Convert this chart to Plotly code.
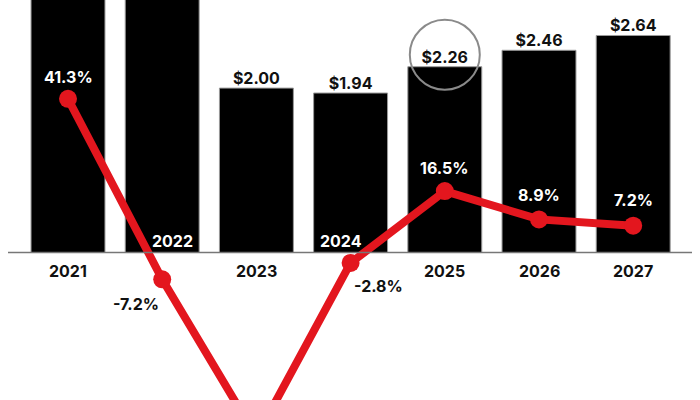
import plotly.graph_objects as go

# Data
years = ["2021", "2022", "2023", "2024", "2025", "2026", "2027"]
price = [4.28, 3.97, 2.00, 1.94, 2.26, 2.46, 2.64]       # $ per unit
growth = [41.3, -7.2, -49.6, -2.8, 16.5, 8.9, 7.2]       # % change y/y
highlight_year = "2025"

# label styling (offsets in px, colours)
pct_offsets = [(0, -22), (-26, 25), (0, 24), (28, 23), (0, -23), (0, -24), (0, -26)]
pct_colors = ["white", "#111", "#111", "#111", "white", "white", "white"]
year_inside = {"2022": 10, "2024": -10}   # year labels drawn inside the bar, with x shift

RED = "#e3161e"
FONT = "Inter"

# pixel scale of the picture: baseline at 252.5px, 82.2 px per $, 3.72 px per %
H = 400
base_px = 252.5
px_per_dollar = 82.2
px_per_pct = 3.72
x_first_px = 68
x_step_px = 94.2
y_top = base_px / px_per_dollar

fig = go.Figure()

fig.add_trace(go.Bar(
    x=years, y=price,
    marker=dict(color="black", line=dict(color="#9a9a9a", width=1)),
    hoverinfo="skip",
))

# $ labels only for bars whose top is inside the picture
fig.add_trace(go.Scatter(
    x=years, y=price,
    mode="text",
    text=[f"${v:.2f}" if v < y_top else "" for v in price],
    textposition="top center",
    textfont=dict(family=FONT, size=16, color="#111", weight="bold"),
    hoverinfo="skip",
))

fig.add_trace(go.Scatter(
    x=years, y=growth,
    yaxis="y2",
    mode="lines+markers",
    line=dict(color=RED, width=8),
    marker=dict(color=RED, size=18),
    hoverinfo="skip",
))

# growth labels (category axis: annotations take the category index)
for i, (g, (dx, dy), col) in enumerate(zip(growth, pct_offsets, pct_colors)):
    fig.add_annotation(
        x=i, y=g, xref="x", yref="y2",
        text=f"<b>{g:.1f}%</b>",
        showarrow=False,
        xshift=dx, yshift=-dy,
        font=dict(family=FONT, size=16, color=col),
    )

# year labels
for i, yr in enumerate(years):
    if yr in year_inside:
        fig.add_annotation(
            x=i, y=0, xref="x", yref="y", text=f"<b>{yr}</b>", showarrow=False,
            yanchor="bottom", yshift=0, xshift=year_inside[yr],
            font=dict(family=FONT, size=16, color="white"),
        )
    else:
        fig.add_annotation(
            x=i, y=0, xref="x", yref="y", text=f"<b>{yr}</b>", showarrow=False,
            yanchor="top", yshift=-6,
            font=dict(family=FONT, size=16, color="#111"),
        )

# baseline
fig.add_shape(
    type="line", xref="paper", yref="y",
    x0=8 / 700, x1=692 / 700, y0=0, y1=0,
    line=dict(color="#777", width=1.5),
)

# circle around the highlighted value
hi = years.index(highlight_year)
cy = price[hi] + 12 / px_per_dollar
r = 35
fig.add_shape(
    type="circle", xref="x", yref="y",
    x0=hi - r / x_step_px, x1=hi + r / x_step_px,
    y0=cy - r / px_per_dollar, y1=cy + r / px_per_dollar,
    line=dict(color="#8a8a8a", width=2),
)

fig.update_layout(
    width=700, height=400,
    margin=dict(l=0, r=0, t=0, b=0),
    paper_bgcolor="white", plot_bgcolor="white",
    showlegend=False,
    bargap=0.215,
    xaxis=dict(
        type="category",
        range=[-x_first_px / x_step_px, (700 - x_first_px) / x_step_px],
        showticklabels=False, showgrid=False, zeroline=False, showline=False,
    ),
    yaxis=dict(
        range=[-(H - base_px) / px_per_dollar, y_top],
        visible=False,
    ),
    yaxis2=dict(
        overlaying="y",
        range=[-(H - base_px) / px_per_pct, base_px / px_per_pct],
        visible=False,
    ),
)

# page body has a default 8px margin, drop it so the figure fills the window
fig.write_html("out.html", config={"displayModeBar": False},
               post_script="document.body.style.margin='0';")
